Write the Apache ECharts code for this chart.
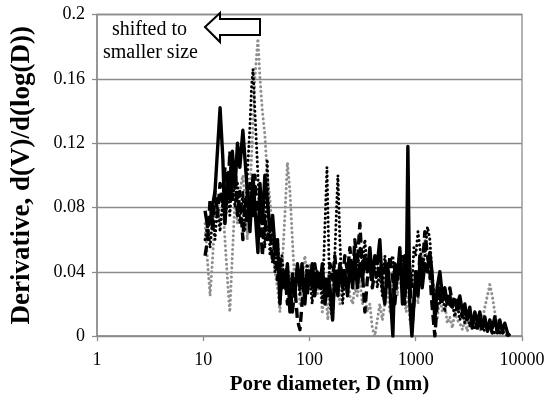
<!DOCTYPE html>
<html><head><meta charset="utf-8">
<script src="https://cdn.jsdelivr.net/npm/echarts@6/dist/echarts.min.js"></script>
<style>html,body{margin:0;padding:0;background:#fff}#c{width:554px;height:400px}</style>
</head><body><div id="c"></div>
<script>
// Pore diameter (nm) and derivative values
const dSolid = [10.4,11.0,11.6,12.9,14.4,15.3,16.0,17.1,17.8,18.8,19.9,21.0,22.1,23.6,24.7,26.0,27.5,29.4,30.6,32.7,34.2,36.0,38.0,40.0,42.4,45.0,47.3,50.0,52.7,55.0,58.7,62.0,65.4,69.0,72.9,77.0,81.3,85.0,90.5,95.0,101,106,112,118,125,132,140,149,156,165,173,185,193,205,215,228,240,255,267,282,298,315,332,350,370,390,412,435,459,485,512,540,571,609,636,670,708,750,789,815,843,879,920,960,1000,1050,1093,1150,1218,1290,1358,1420,1513,1590,1686,1780,1878,1980,2093,2210,2333,2460,2600,2750,2897,3050,3228,3400,3597,3800,4009,4230,4467,4720,4977,5250,5546,5850,6180,6500,6887,7300,7674];
const vSolid = [0.078,0.068,0.072,0.09,0.142,0.11,0.07,0.10,0.085,0.115,0.092,0.12,0.105,0.128,0.11,0.09,0.065,0.10,0.08,0.052,0.095,0.07,0.10,0.085,0.065,0.075,0.055,0.06,0.02,0.04,0.03,0.045,0.015,0.038,0.025,0.045,0.03,0.045,0.02,0.04,0.032,0.045,0.025,0.04,0.03,0.045,0.02,0.035,0.03,0.01,0.04,0.025,0.045,0.03,0.04,0.025,0.045,0.03,0.05,0.03,0.045,0.035,0.05,0.04,0.055,0.035,0.05,0.045,0.06,0.03,0.02,0.045,0.03,0.0,0.045,0.035,0.055,0.02,0.05,0.03,0.118,0.02,0.0,0.02,0.04,0.025,0.045,0.03,0.045,0.04,0.052,0.04,0.01,0.03,0.04,0.025,0.03,0.02,0.025,0.018,0.022,0.02,0.025,0.015,0.02,0.01,0.018,0.005,0.015,0.008,0.015,0.005,0.012,0.003,0.01,0.005,0.012,0.002,0.01,0.003,0.008,0.002,0.0];

const dDashed = [10.4,11.0,11.6,12.3,12.9,13.6,14.4,15.3,16.0,17.1,17.8,18.8,19.9,21.0,22.1,23.6,24.7,26.0,27.5,29.4,30.6,32.7,34.2,36.0,38.0,40.0,42.4,45.0,47.3,50.0,52.7,55.0,58.7,62.0,65.4,69.0,72.9,77.0,81.3,85.0,90.5,95.0,101,106,112,118,125,132,140,149,156,165,173,185,193,205,215,228,240,255,267,282,298,315,332,350,370,390,412,435,459,485,512,540,571,609,636,670,708,750,789,815,843,879,920,960,1000,1050,1093,1150,1218,1290,1358,1420,1513,1590,1686,1780,1878,1980,2093,2210,2333,2460,2600,2750,2897,3050,3228,3400,3597,3800,4009,4230,4467,4720,4977,5250,5546,6180,6887,7674];
const vDashed = [0.05,0.06,0.085,0.065,0.09,0.075,0.095,0.08,0.105,0.09,0.115,0.085,0.11,0.075,0.09,0.06,0.085,0.07,0.095,0.075,0.1,0.065,0.08,0.05,0.075,0.06,0.07,0.045,0.06,0.035,0.05,0.03,0.04,0.02,0.035,0.015,0.03,0.01,0.004,0.02,0.035,0.025,0.04,0.03,0.045,0.035,0.04,0.03,0.038,0.025,0.045,0.035,0.05,0.03,0.045,0.035,0.05,0.04,0.055,0.035,0.06,0.045,0.07,0.04,0.015,0.035,0.045,0.03,0.04,0.035,0.05,0.04,0.045,0.03,0.05,0.035,0.02,0.04,0.05,0.035,0.02,0.045,0.03,0.04,0.005,0.02,0.04,0.03,0.05,0.04,0.065,0.05,0.04,0.02,0.0,0.02,0.03,0.02,0.028,0.022,0.03,0.02,0.025,0.015,0.02,0.012,0.018,0.01,0.015,0.008,0.012,0.005,0.01,0.003,0.008,0.004,0.006,0.002,0.005,0.002,0.003,0.0];

const dDotted = [10.4,11.0,11.6,12.3,12.9,13.6,14.4,15.3,16.0,17.1,17.8,18.8,19.9,21.0,22.1,23.6,24.7,26.0,27.5,28.5,29.4,30.6,32.7,34.2,36.0,38.0,40.0,42.4,45.0,47.3,50.0,52.7,55.0,58.7,62.0,65.4,69.0,72.9,77.0,81.3,85.0,90.5,95.0,101,106,112,118,125,132,140,146,152,156,165,173,180,185,193,205,215,228,240,255,267,282,298,315,332,350,370,390,412,435,459,485,512,540,571,609,636,670,708,750,789,815,843,879,920,960,1000,1050,1093,1150,1218,1290,1358,1420,1513,1590,1686,1780,1878,1980,2093,2210,2333,2460,2600,2750,2897,3050,3228,3400,3597,4009,4467,4977,5546,6180,6887,7674];
const vDotted = [0.06,0.07,0.055,0.075,0.06,0.08,0.065,0.085,0.07,0.09,0.075,0.1,0.08,0.095,0.07,0.09,0.065,0.1,0.13,0.155,0.166,0.14,0.1,0.07,0.085,0.055,0.11,0.05,0.07,0.04,0.06,0.035,0.05,0.03,0.045,0.025,0.04,0.03,0.045,0.025,0.04,0.03,0.045,0.035,0.02,0.04,0.03,0.04,0.02,0.07,0.105,0.05,0.02,0.01,0.05,0.08,0.1,0.06,0.02,0.035,0.03,0.045,0.035,0.05,0.04,0.055,0.045,0.06,0.04,0.05,0.035,0.045,0.03,0.04,0.025,0.05,0.035,0.045,0.05,0.03,0.045,0.04,0.05,0.035,0.04,0.03,0.045,0.03,0.055,0.05,0.065,0.055,0.045,0.05,0.068,0.06,0.04,0.02,0.03,0.02,0.028,0.015,0.025,0.018,0.02,0.012,0.02,0.01,0.015,0.008,0.012,0.006,0.01,0.004,0.008,0.003,0.005,0.002,0.003,0.001,0.0];

const dGray = [10.4,11.0,11.6,12.3,12.9,13.6,14.4,15.3,16.0,17.1,17.8,18.8,19.9,21.0,22.1,23.6,24.7,26.0,27.5,29.4,30.6,32.7,34.2,36.0,38.0,40.0,42.4,45.0,47.3,50.0,52.7,55.0,58.7,62.0,65.4,69.0,72.9,77.0,81.3,85.0,90.5,95.0,101,106,112,118,125,132,140,149,156,165,173,185,193,205,215,228,240,255,267,282,298,315,332,350,370,390,412,435,459,485,512,540,571,609,636,670,708,750,789,815,843,879,920,960,1000,1050,1093,1150,1218,1290,1358,1420,1513,1590,1686,1780,1878,1980,2093,2210,2333,2460,2600,2750,2897,3050,3228,3400,3597,3800,4009,4230,4467,4720,4977,5250,5546,5850,6180,6500,6887,7674];
const vGray = [0.07,0.045,0.025,0.05,0.075,0.085,0.07,0.08,0.06,0.03,0.015,0.05,0.085,0.07,0.09,0.1,0.085,0.06,0.09,0.13,0.16,0.185,0.16,0.14,0.125,0.1,0.085,0.06,0.04,0.03,0.015,0.04,0.075,0.108,0.09,0.06,0.03,0.045,0.02,0.035,0.05,0.035,0.045,0.03,0.04,0.025,0.035,0.015,0.03,0.01,0.03,0.04,0.025,0.035,0.02,0.035,0.03,0.04,0.025,0.02,0.03,0.025,0.035,0.02,0.025,0.015,0.02,0.005,0.0,0.01,0.02,0.01,0.02,0.03,0.015,0.035,0.04,0.025,0.045,0.03,0.02,0.015,0.03,0.01,0.005,0.02,0.035,0.02,0.04,0.05,0.06,0.045,0.035,0.03,0.02,0.01,0.025,0.015,0.02,0.008,0.012,0.005,0.015,0.01,0.008,0.004,0.01,0.003,0.008,0.012,0.005,0.008,0.003,0.01,0.018,0.025,0.032,0.025,0.015,0.008,0.01,0.004,0.002,0.0];

const yTicks = [0, 0.04, 0.08, 0.12, 0.16, 0.2];
const xTitle = 'Pore diameter, D (nm)';
const yTitle = 'Derivative, d(V)/d(log(D))';
const noteLines = ['shifted to', 'smaller size'];

const pairs = (xs, ys) => xs.map((x, i) => [x, ys[i]]);
const serif = 'Liberation Serif';
const gridGray = '#8c8c8c';

const chart = echarts.init(document.getElementById('c'), null, {renderer: 'canvas'});
chart.setOption({
  animation: false,
  backgroundColor: '#fff',
  grid: {left: 97, right: 32, top: 14.5, bottom: 59, show: true, borderColor: gridGray, borderWidth: 1.3},
  xAxis: {
    type: 'log', logBase: 10, min: 1, max: 10000,
    name: xTitle, nameLocation: 'middle', nameGap: 36,
    nameTextStyle: {fontFamily: serif, fontSize: 21, fontWeight: 'bold', color: '#000', padding: [0, 0, 0, 40]},
    axisLine: {lineStyle: {color: gridGray, width: 1.5}},
    axisTick: {show: true, length: 5, inside: false, lineStyle: {color: gridGray, width: 1.3}},
    minorTick: {show: false},
    splitLine: {show: false},
    axisLabel: {fontFamily: serif, fontSize: 18, color: '#000', margin: 15,
      formatter: v => String(Math.round(v))}
  },
  yAxis: {
    type: 'value', min: 0, max: 0.2, interval: 0.04,
    name: yTitle, nameLocation: 'middle', nameGap: 61,
    nameTextStyle: {fontFamily: serif, fontSize: 27, fontWeight: 'bold', color: '#000'},
    axisLine: {show: true, lineStyle: {color: gridGray, width: 1.5}},
    axisTick: {show: true, length: 5, lineStyle: {color: gridGray, width: 1.3}},
    splitLine: {show: true, lineStyle: {color: gridGray, width: 1.3}},
    axisLabel: {fontFamily: serif, fontSize: 18, color: '#000', margin: 12,
      formatter: v => yTicks.includes(+v.toFixed(2)) ? String(+v.toFixed(2)) : ''}
  },
  series: [
    {type: 'line', data: pairs(dGray, vGray), showSymbol: false, z: 2,
     lineStyle: {color: '#8f8f8f', width: 3, type: [0.1, 4.5], cap: 'round', join: 'round'}},
    {type: 'line', data: pairs(dDotted, vDotted), showSymbol: false, z: 3,
     lineStyle: {color: '#000', width: 3, type: [0.1, 4.5], cap: 'round', join: 'round'}},
    {type: 'line', data: pairs(dDashed, vDashed), showSymbol: false, z: 4,
     lineStyle: {color: '#000', width: 3.4, type: [10, 5], join: 'round'}},
    {type: 'line', data: pairs(dSolid, vSolid), showSymbol: false, z: 5,
     lineStyle: {color: '#000', width: 3.4, join: 'round'}}
  ],
  graphic: [
    {type: 'text', left: 112, top: 20, z: 10,
     style: {text: noteLines[0], fontFamily: serif, fontSize: 20, fill: '#000'}},
    {type: 'text', left: 103, top: 43, z: 10,
     style: {text: noteLines[1], fontFamily: serif, fontSize: 20, fill: '#000'}},
    {type: 'polygon', z: 10,
     shape: {points: [[205, 27], [220, 13], [220, 19], [260, 19], [260, 35], [220, 35], [220, 42]]},
     style: {fill: '#fff', stroke: '#000', lineWidth: 2}}
  ]
});
</script></body></html>
